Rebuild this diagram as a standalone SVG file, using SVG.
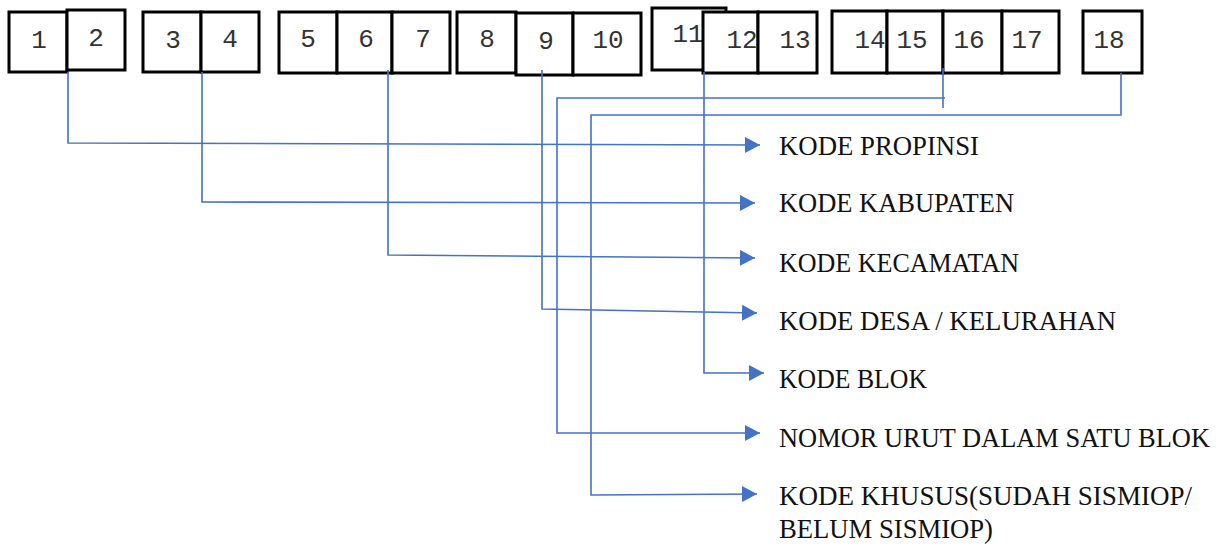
<svg xmlns="http://www.w3.org/2000/svg" width="1223" height="546" viewBox="0 0 1223 546">
<style>
.box{fill:#fff;stroke:#000;stroke-width:3}
.num{font-family:"Liberation Mono",monospace;font-size:26px;fill:#333;text-anchor:middle}
.lbl{font-family:"Liberation Serif","DejaVu Serif",serif;font-size:27px;fill:#111}
.con{fill:none;stroke:#4472C4;stroke-width:1.6}
</style>
<defs>
<marker id="arr" viewBox="0 0 15 16" refX="15" refY="8" markerWidth="15" markerHeight="16" markerUnits="userSpaceOnUse" orient="auto">
<path d="M0,0 L15,8 L0,16 Z" fill="#4472C4"/>
</marker>
</defs>
<rect width="1223" height="546" fill="#fff"/>
<g id="box1"><rect class="box" x="9" y="12" width="58" height="60"/><text class="num" x="39" y="48">1</text></g>
<g id="box2"><rect class="box" x="67" y="10" width="58" height="60"/><text class="num" x="96" y="46">2</text></g>
<g id="box3"><rect class="box" x="143" y="12" width="58" height="60"/><text class="num" x="173" y="48">3</text></g>
<g id="box4"><rect class="box" x="201" y="12" width="58" height="60"/><text class="num" x="230" y="47">4</text></g>
<g id="box5"><rect class="box" x="279" y="12" width="58" height="61"/><text class="num" x="308" y="47">5</text></g>
<g id="box6"><rect class="box" x="337" y="12" width="55" height="61"/><text class="num" x="366" y="47">6</text></g>
<g id="box7"><rect class="box" x="392" y="12" width="58" height="61"/><text class="num" x="423" y="47">7</text></g>
<g id="box8"><rect class="box" x="457" y="12" width="59" height="61"/><text class="num" x="487" y="47">8</text></g>
<g id="box9"><rect class="box" x="516" y="13" width="57" height="62"/><text class="num" x="546" y="49">9</text></g>
<g id="box10"><rect class="box" x="573" y="13" width="68" height="62"/><text class="num" x="608" y="48">10</text></g>
<g id="box11"><rect class="box" x="652" y="8" width="74" height="62"/><text class="num" x="688" y="42">11</text></g>
<g id="box12"><rect class="box" x="703" y="12" width="55" height="61"/><text class="num" x="742" y="48">12</text></g>
<g id="box13"><rect class="box" x="758" y="12" width="59" height="61"/><text class="num" x="795" y="48">13</text></g>
<g id="box14"><rect class="box" x="832" y="11" width="55" height="62"/><text class="num" x="870" y="48">14</text></g>
<g id="box15"><rect class="box" x="887" y="11" width="56" height="62"/><text class="num" x="912" y="48">15</text></g>
<g id="box16"><rect class="box" x="943" y="11" width="59" height="62"/><text class="num" x="969" y="48">16</text></g>
<g id="box17"><rect class="box" x="1002" y="11" width="57" height="62"/><text class="num" x="1027" y="48">17</text></g>
<g id="box18"><rect class="box" x="1083" y="11" width="59" height="62"/><text class="num" x="1109" y="48">18</text></g>
<g id="connectors">
<polyline class="con" points="68,72 68,143 760,145" marker-end="url(#arr)"/>
<polyline class="con" points="202,72 202,202 755,203" marker-end="url(#arr)"/>
<polyline class="con" points="388,70 388,255 755,258" marker-end="url(#arr)"/>
<polyline class="con" points="542,70 542,309 757,313" marker-end="url(#arr)"/>
<polyline class="con" points="704,72 704,373 764,373" marker-end="url(#arr)"/>
<polyline class="con" points="943,68 943,108"/>
<polyline class="con" points="945,98 557,98 557,433 760,433" marker-end="url(#arr)"/>
<polyline class="con" points="1121,73 1121,115 591,115 591,495 757,494" marker-end="url(#arr)"/>
</g>
<g id="lbl1"><text class="lbl" x="779" y="155" textLength="200" lengthAdjust="spacingAndGlyphs">KODE PROPINSI</text></g>
<g id="lbl2"><text class="lbl" x="779" y="212" textLength="235" lengthAdjust="spacingAndGlyphs">KODE KABUPATEN</text></g>
<g id="lbl3"><text class="lbl" x="779" y="272" textLength="240" lengthAdjust="spacingAndGlyphs">KODE KECAMATAN</text></g>
<g id="lbl4"><text class="lbl" x="779" y="330" textLength="337" lengthAdjust="spacingAndGlyphs">KODE DESA / KELURAHAN</text></g>
<g id="lbl5"><text class="lbl" x="779" y="388" textLength="148" lengthAdjust="spacingAndGlyphs">KODE BLOK</text></g>
<g id="lbl6"><text class="lbl" x="779" y="447" textLength="431" lengthAdjust="spacingAndGlyphs">NOMOR URUT DALAM SATU BLOK</text></g>
<g id="lbl7"><text class="lbl" x="779" y="505" textLength="413" lengthAdjust="spacingAndGlyphs">KODE KHUSUS(SUDAH SISMIOP/</text><text class="lbl" x="779" y="538" textLength="214" lengthAdjust="spacingAndGlyphs">BELUM SISMIOP)</text></g>
</svg>
